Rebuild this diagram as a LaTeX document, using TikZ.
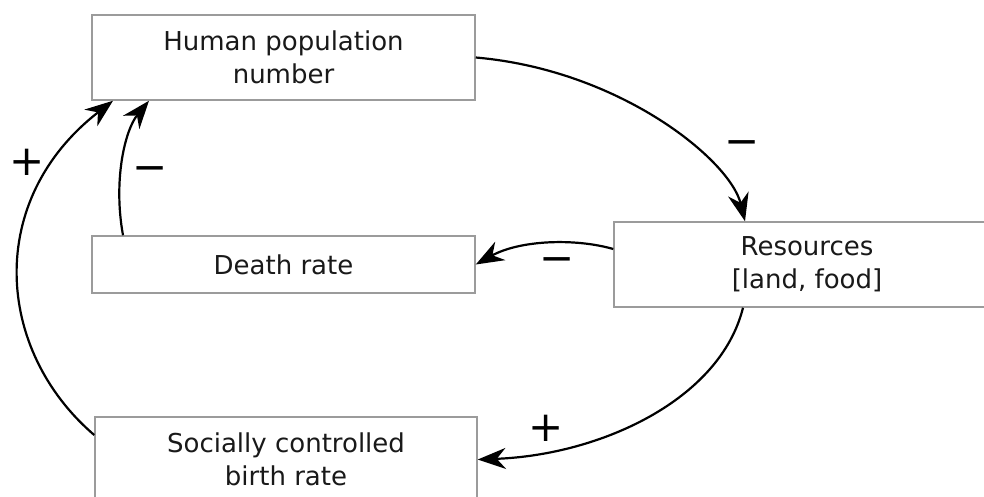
\documentclass[tikz,border=0pt]{standalone}
\usepackage{fontspec}
\setmainfont{DejaVu Sans}
\usetikzlibrary{arrows.meta}
\definecolor{boxgray}{RGB}{155,155,155}
\begin{document}
\begin{tikzpicture}[x=1pt,y=-1pt,
  box/.style={draw=boxgray, line width=1.5pt, fill=white, align=center,
    inner sep=0pt, font=\fontsize{26}{33}\selectfont, text=black!90},
  link/.style={line width=2.2pt, -{Stealth[length=28pt,width=21pt,inset=9pt]}},
  sign/.style={font=\fontsize{42}{42}\selectfont, inner sep=0pt}]
\useasboundingbox (0,0) rectangle (984,496);

% stocks and rates
\node[box, minimum width=383pt, minimum height=85pt] (H) at (283.5,57.5) {Human population\\number};
\node[box, minimum width=383pt, minimum height=57pt] (D) at (283.5,264.5) {Death rate};
\node[box, minimum width=386pt, minimum height=85pt] (R) at (807,264.5) {Resources\\{}[land, food]};
\node[box, minimum width=382pt, minimum height=85pt] (S) at (286,459.5) {Socially controlled\\birth rate};

% causal links
\draw[link] (H.east) .. controls (620,70) and (730,160) .. ([xshift=-62pt]R.north);
\draw[link] ([yshift=15.5pt]R.west) .. controls (575,238) and (520,240) .. (D.east);
\draw[link] ([xshift=-160.5pt]D.north) .. controls (113,180) and (125,130) .. ([xshift=-134.5pt]H.south);
\draw[link] ([yshift=24.5pt]S.west) .. controls (-5,350) and (-15,200) .. ([xshift=-170.5pt]H.south);
\draw[link] ([xshift=-64pt]R.south) .. controls (720,400) and (600,455) .. (S.east);

% polarity signs
\node[sign] (pHR) at (742,148) {−};
\node[sign] (pRD) at (557,265) {−};
\node[sign] (pDH) at (150,174) {−};
\node[sign] (pSH) at (27,162) {+};
\node[sign] (pRS) at (546,428) {+};
\end{tikzpicture}
\end{document}
